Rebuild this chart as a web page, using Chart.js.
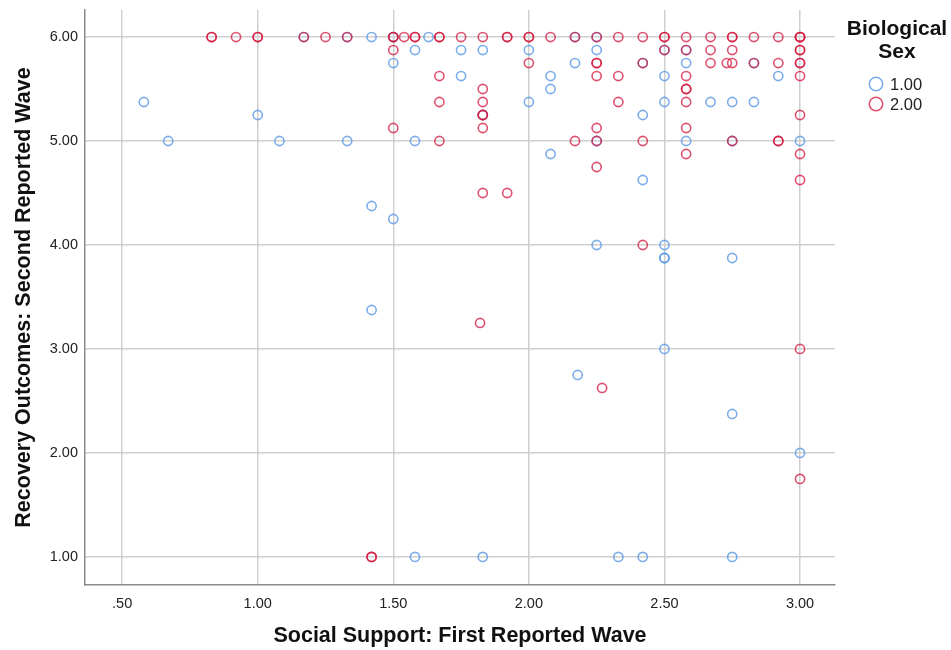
<!DOCTYPE html>
<html>
<head>
<meta charset="utf-8">
<script src="https://cdn.jsdelivr.net/npm/chart.js@4"></script>
<style>
  body { margin: 0; background: #fff; }
  canvas { display: block; }
</style>
</head>
<body>
<canvas id="scatter" width="951" height="650"></canvas>
<script>
// Biological sex = 1.00
const maleX = [
  1.42, 1.63, 1.17, 1.33, 1.50, 2.17, 2.25,
  1.58, 1.75, 1.83, 2.00, 2.25, 2.50, 2.58,
  1.50, 2.17, 2.58, 2.42, 2.83,
  1.75, 2.08, 2.50, 2.92,
  2.08,
  0.58, 2.00, 2.50, 2.67, 2.75, 2.83,
  1.00, 2.42, 1.83,
  0.67, 1.08, 1.33, 1.58, 2.25, 2.58, 2.75, 3.00,
  2.08, 2.42, 1.42, 1.50,
  2.25, 2.50, 2.50, 2.50, 2.75,
  1.42, 2.50, 2.18, 2.75, 3.00,
  1.58, 1.83, 2.33, 2.42, 2.75
];
const maleY = [
  6.00, 6.00, 6.00, 6.00, 6.00, 6.00, 6.00,
  5.875, 5.875, 5.875, 5.875, 5.875, 5.875, 5.875,
  5.75, 5.75, 5.75, 5.75, 5.75,
  5.625, 5.625, 5.625, 5.625,
  5.50,
  5.375, 5.375, 5.375, 5.375, 5.375, 5.375,
  5.25, 5.25, 5.25,
  5.00, 5.00, 5.00, 5.00, 5.00, 5.00, 5.00, 5.00,
  4.875, 4.625, 4.375, 4.25,
  4.00, 4.00, 3.875, 3.875, 3.875,
  3.375, 3.00, 2.75, 2.375, 2.00,
  1.00, 1.00, 1.00, 1.00, 1.00
];

// Biological sex = 2.00
const femaleX = [
  0.83, 0.83, 0.92, 1.00, 1.00, 1.17, 1.25, 1.33, 1.50, 1.50, 1.54, 1.58, 1.58,
  1.67, 1.67, 1.75, 1.83, 1.92, 1.92, 2.00, 2.00, 2.08, 2.17, 2.25, 2.33, 2.42,
  2.50, 2.50, 2.58, 2.67, 2.75, 2.75, 2.83, 2.92, 3.00, 3.00, 3.00,
  1.50, 2.50, 2.58, 2.67, 2.75, 3.00, 3.00,
  2.00, 2.25, 2.25, 2.42, 2.67, 2.73, 2.75, 2.83, 2.92, 3.00, 3.00,
  1.67, 2.25, 2.33, 2.58, 3.00,
  1.83, 2.58, 2.58,
  1.67, 1.83, 2.33, 2.58,
  1.83, 1.83, 3.00,
  1.50, 1.83, 2.25, 2.58,
  1.67, 2.17, 2.25, 2.42, 2.75, 2.92, 2.92,
  2.58, 3.00, 2.25, 3.00, 1.83, 1.92,
  2.42, 1.82, 3.00, 2.27, 3.00, 1.42, 1.42
];
const femaleY = [
  6.00, 6.00, 6.00, 6.00, 6.00, 6.00, 6.00, 6.00, 6.00, 6.00, 6.00, 6.00, 6.00,
  6.00, 6.00, 6.00, 6.00, 6.00, 6.00, 6.00, 6.00, 6.00, 6.00, 6.00, 6.00, 6.00,
  6.00, 6.00, 6.00, 6.00, 6.00, 6.00, 6.00, 6.00, 6.00, 6.00, 6.00,
  5.875, 5.875, 5.875, 5.875, 5.875, 5.875, 5.875,
  5.75, 5.75, 5.75, 5.75, 5.75, 5.75, 5.75, 5.75, 5.75, 5.75, 5.75,
  5.625, 5.625, 5.625, 5.625, 5.625,
  5.50, 5.50, 5.50,
  5.375, 5.375, 5.375, 5.375,
  5.25, 5.25, 5.25,
  5.125, 5.125, 5.125, 5.125,
  5.00, 5.00, 5.00, 5.00, 5.00, 5.00, 5.00,
  4.875, 4.875, 4.75, 4.625, 4.50, 4.50,
  4.00, 3.25, 3.00, 2.625, 1.75, 1.00, 1.00
];

const xTicks = [0.5, 1.0, 1.5, 2.0, 2.5, 3.0];
const yTicks = [1, 2, 3, 4, 5, 6];
const legendTitle = ["Biological", "Sex"];
const seriesNames = ["1.00", "2.00"];

const BLUE = "rgba(86, 150, 228, 0.78)";
const RED = "rgba(212, 22, 60, 0.75)";
const FONT = "'Liberation Sans', Arial, sans-serif";

function pts(xs, ys) {
  return xs.map((x, i) => ({ x: x, y: ys[i] }));
}

// legend drawn at the right like the SPSS output
const sideLegend = {
  id: "sideLegend",
  afterDraw(chart) {
    const ctx = chart.ctx;
    ctx.save();
    ctx.fillStyle = "#111";
    ctx.font = "bold 21px " + FONT;
    ctx.textAlign = "center";
    ctx.textBaseline = "middle";
    ctx.fillText(legendTitle[0], 897, 29);
    ctx.fillText(legendTitle[1], 897, 52);
    const colors = [BLUE, RED];
    ctx.font = "16.5px " + FONT;
    ctx.textAlign = "left";
    seriesNames.forEach((name, i) => {
      const cy = 84 + i * 20;
      ctx.beginPath();
      ctx.arc(876, cy, 6.7, 0, Math.PI * 2);
      ctx.strokeStyle = colors[i];
      ctx.lineWidth = 1.6;
      ctx.stroke();
      ctx.fillStyle = "#222";
      ctx.fillText(name, 890, cy + 1);
    });
    ctx.restore();
  }
};

const ctx = document.getElementById("scatter").getContext("2d");
new Chart(ctx, {
  type: "scatter",
  data: {
    datasets: [
      {
        label: seriesNames[0],
        data: pts(maleX, maleY),
        borderColor: BLUE,
        backgroundColor: "transparent",
        pointRadius: 4.6,
        borderWidth: 1.6,
        order: 2
      },
      {
        label: seriesNames[1],
        data: pts(femaleX, femaleY),
        borderColor: RED,
        backgroundColor: "transparent",
        pointRadius: 4.6,
        borderWidth: 1.6,
        order: 1
      }
    ]
  },
  options: {
    responsive: false,
    animation: false,
    layout: { padding: { top: 10, right: 116, left: 0, bottom: 0 } },
    plugins: { legend: { display: false }, tooltip: { enabled: false } },
    scales: {
      x: {
        type: "linear",
        min: 0.363,
        max: 3.129,
        afterBuildTicks: s => { s.ticks = xTicks.map(v => ({ value: v })); },
        afterFit: s => { s.height = 65; s.paddingLeft = 0; s.paddingRight = 0; },
        grid: { color: "#cfcfcf", lineWidth: 1.5, drawTicks: false },
        border: { color: "#8a8a8a", width: 1.5 },
        ticks: {
          padding: 10,
          maxRotation: 0,
          autoSkip: false,
          color: "#222",
          font: { family: FONT, size: 14.5 },
          callback: v => v.toFixed(2).replace(/^0/, "")
        },
        title: {
          display: true,
          text: "Social Support: First Reported Wave",
          color: "#111",
          font: { family: FONT, size: 21.5, weight: "bold" },
          padding: { top: 0, bottom: 1 }
        }
      },
      y: {
        type: "linear",
        min: 0.73,
        max: 6.26,
        afterBuildTicks: s => { s.ticks = yTicks.map(v => ({ value: v })); },
        afterFit: s => { s.width = 85; s.paddingTop = 0; s.paddingBottom = 0; },
        grid: { color: "#cfcfcf", lineWidth: 1.5, drawTicks: false },
        border: { color: "#8a8a8a", width: 1.5 },
        ticks: {
          padding: 7,
          color: "#222",
          font: { family: FONT, size: 14.5 },
          callback: v => v.toFixed(2)
        },
        title: {
          display: true,
          text: "Recovery Outcomes: Second Reported Wave",
          color: "#111",
          font: { family: FONT, size: 21.5, weight: "bold" },
          padding: { top: 11, bottom: 0 }
        }
      }
    }
  },
  plugins: [sideLegend]
});
</script>
</body>
</html>
